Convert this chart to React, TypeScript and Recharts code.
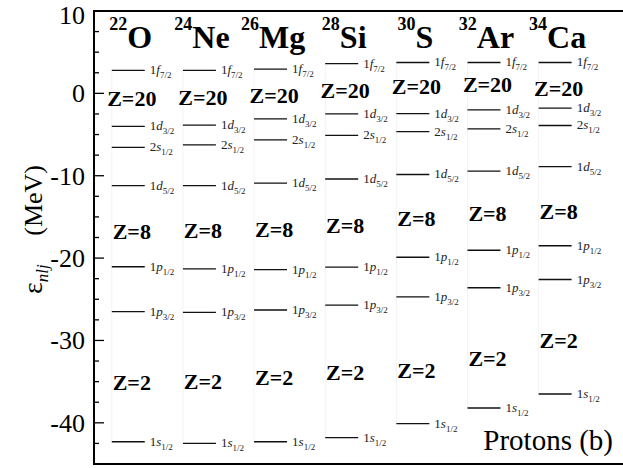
import React from "react";
import {
  ScatterChart,
  Scatter,
  XAxis,
  YAxis,
  ReferenceArea,
  ReferenceLine,
  Customized,
} from "recharts";

const SERIF = "Liberation Serif, Times New Roman, DejaVu Serif, serif";
const serif = { fontFamily: SERIF };

// nuclei along the isotone chain (N = 14)
const massNumbers = [22, 24, 26, 28, 30, 32, 34];
const symbols = ["O", "Ne", "Mg", "Si", "S", "Ar", "Ca"];

// proton single-particle energies (MeV)
const level1f72 = [2.8, 2.8, 2.95, 3.6, 3.75, 3.75, 3.75];
const level1d32 = [-4.0, -3.85, -3.1, -2.5, -2.45, -2.0, -1.8];
const level2s12 = [-6.55, -6.25, -5.65, -5.1, -4.65, -4.3, -3.9];
const level1d52 = [-11.2, -11.2, -10.9, -10.4, -9.85, -9.45, -8.9];
const level1p12 = [-21.05, -21.3, -21.4, -21.1, -19.9, -19.05, -18.5];
const level1p32 = [-26.5, -26.6, -26.3, -25.7, -24.7, -23.6, -22.6];
const level1s12 = [-42.3, -42.5, -42.3, -41.8, -40.1, -38.2, -36.5];

// where the shell-gap tags sit (MeV)
const gapZ20 = [-0.6, -0.55, -0.2, 0.35, 0.8, 1.1, 0.6];
const gapZ8 = [-16.75, -16.65, -16.5, -16.1, -15.2, -14.6, -14.35];
const gapZ2 = [-35.15, -34.95, -34.5, -33.9, -33.6, -32.2, -30.05];

const yTicks = [
  10, 7.5, 5, 2.5, 0, -2.5, -5, -7.5, -10, -12.5, -15, -17.5, -20, -22.5, -25,
  -27.5, -30, -32.5, -35, -37.5, -40, -42.5, -45,
];

const orbitals = [
  { n: "1", l: "f", j: "7/2", e: level1f72 },
  { n: "1", l: "d", j: "3/2", e: level1d32 },
  { n: "2", l: "s", j: "1/2", e: level2s12 },
  { n: "1", l: "d", j: "5/2", e: level1d52 },
  { n: "1", l: "p", j: "1/2", e: level1p12 },
  { n: "1", l: "p", j: "3/2", e: level1p32 },
  { n: "1", l: "s", j: "1/2", e: level1s12 },
];

const gaps = [
  { z: 20, e: gapZ20 },
  { z: 8, e: gapZ8 },
  { z: 2, e: gapZ2 },
];

const toPoints = (vals: number[]) => vals.map((y, x) => ({ x, y }));

function Level(props: any) {
  const { cx, cy, n, l, j } = props;
  return (
    <g>
      <line x1={cx} x2={cx + 33} y1={cy} y2={cy} stroke="#111" strokeWidth={1.3} />
      <text x={cx + 38} y={cy + 4} fontSize={13} style={serif} fill="#222">
        {n}
        <tspan fontStyle="italic">{l}</tspan>
        <tspan fontSize={9} dy={4}>
          {j}
        </tspan>
      </text>
    </g>
  );
}

function GapTag(props: any) {
  const { cx, cy, z } = props;
  return (
    <text
      x={cx + 20}
      y={cy + 7.5}
      textAnchor="middle"
      fontSize={22}
      fontWeight="bold"
      style={serif}
      fill="#000"
    >
      Z={z}
    </text>
  );
}

function NucleusTag(props: any) {
  const { cx, cy, payload } = props;
  const i = payload.x;
  return (
    <text x={cx + 19} y={cy + 37} textAnchor="middle" style={serif} fontWeight="bold" fill="#000">
      <tspan fontSize={18} dy={-18}>
        {massNumbers[i]}
      </tspan>
      <tspan fontSize={32} dy={18}>
        {symbols[i]}
      </tspan>
    </text>
  );
}

function LeftTick(props: any) {
  const { x, y, payload } = props;
  const v = payload.value;
  const major = v % 10 === 0;
  return (
    <g>
      <line x1={x} x2={x + (major ? 10 : 5)} y1={y} y2={y} stroke="#000" strokeWidth={1.3} />
      {major && (
        <text
          x={x - 9}
          y={Math.max(y, 15)}
          dy="0.34em"
          textAnchor="end"
          fontSize={26}
          style={serif}
          fill="#000"
        >
          {v}
        </text>
      )}
    </g>
  );
}

function RightTick(props: any) {
  const { x, y, payload } = props;
  const major = payload.value % 10 === 0;
  return <line x1={x} x2={x - (major ? 8 : 4)} y1={y} y2={y} stroke="#000" strokeWidth={1.3} />;
}

function YTitle() {
  return (
    <g transform="rotate(-90)" style={serif} fill="#000">
      <text x={-294} y={42} fontSize={28} style={serif}>
        ε
        <tspan fontSize={17} fontStyle="italic" dy={6}>
          nlj
        </tspan>
      </text>
      <text x={-165} y={42} fontSize={26} textAnchor="end" style={serif}>
        (MeV)
      </text>
    </g>
  );
}

function ProtonsTag() {
  return (
    <text x={613} y={450} textAnchor="end" fontSize={29} style={serif} fill="#000">
      Protons (b)
    </text>
  );
}

export default function App() {
  return (
    <div style={{ position: "absolute", left: 0, top: 0, width: 623, height: 468, overflow: "hidden", background: "#fff" }}>
      <ScatterChart width={626} height={468} margin={{ top: 11, right: 0, bottom: 4, left: 0 }}>
        <XAxis type="number" dataKey="x" domain={[-0.25, 7.2]} hide />
        <YAxis
          type="number"
          dataKey="y"
          domain={[-45, 10]}
          ticks={yTicks}
          interval={0}
          width={94}
          axisLine={false}
          tickLine={false}
          tickSize={0}
          tickMargin={0}
          tick={<LeftTick />}
          label={<YTitle />}
        />
        <YAxis
          yAxisId="r"
          orientation="right"
          type="number"
          dataKey="y"
          domain={[-45, 10]}
          ticks={yTicks}
          interval={0}
          width={2}
          axisLine={false}
          tickLine={false}
          tickSize={0}
          tickMargin={0}
          tick={<RightTick />}
        />

        {symbols.map((s, i) => (
          <ReferenceLine
            key={s}
            segment={[
              { x: i, y: level1f72[i] },
              { x: i, y: level1s12[i] },
            ]}
            stroke="#f3f3f3"
            strokeWidth={1}
          />
        ))}

        {orbitals.map((o) => (
          <Scatter
            key={o.n + o.l + o.j}
            data={toPoints(o.e)}
            isAnimationActive={false}
            shape={(p: any) => <Level {...p} n={o.n} l={o.l} j={o.j} />}
          />
        ))}

        {gaps.map((g) => (
          <Scatter
            key={g.z}
            data={toPoints(g.e)}
            isAnimationActive={false}
            shape={(p: any) => <GapTag {...p} z={g.z} />}
          />
        ))}

        <Scatter
          data={toPoints(symbols.map(() => 10))}
          isAnimationActive={false}
          shape={(p: any) => <NucleusTag {...p} />}
        />

        <ReferenceArea
          x1={-0.25}
          x2={7.2}
          y1={-45}
          y2={10}
          fill="none"
          stroke="#000"
          strokeWidth={2}
          ifOverflow="visible"
        />
        <Customized component={<ProtonsTag />} />
      </ScatterChart>
    </div>
  );
}
